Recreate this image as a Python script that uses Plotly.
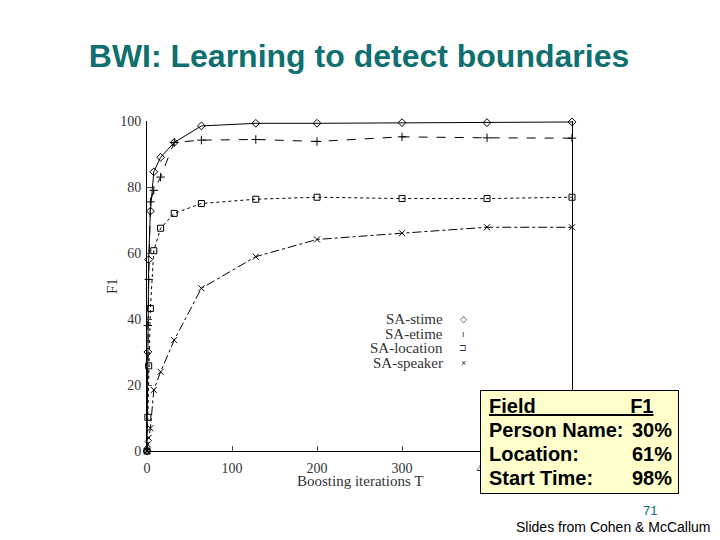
import plotly.graph_objects as go

# ---- data ----
T = [0, 1, 2, 4, 8, 16, 32, 64, 128, 200, 300, 400, 500]
sa_stime = [0, 30, 58, 72.7, 84.6, 89, 93.5, 98.5, 99.3, 99.3, 99.5, 99.5, 99.7]
sa_etime = [0, 38, 52, 75.5, 79, 83, 93.5, 94.2, 94.4, 93.8, 95.2, 94.9, 94.8]
sa_location = [0, 10.2, 25.8, 43.2, 60.7, 67.5, 72, 75, 76.3, 76.9, 76.5, 76.5, 76.9]
sa_speaker = [0, 2, 4, 6.9, 18.5, 24, 33.6, 49.3, 58.9, 64.1, 66, 67.8, 67.8]

series_names = ["SA-stime", "SA-etime", "SA-location", "SA-speaker"]
series_values = [sa_stime, sa_etime, sa_location, sa_speaker]
marker_symbols = ["diamond-open", "cross-thin-open", "square-open", "x-thin-open"]
line_dashes = ["solid", "dash", "dot", "dashdot"]
legend_glyphs = ["\u25C7", "\u0131", "\u2290", "\u00D7"]

x_ticks = [0, 100, 200, 300, 400, 500]
y_ticks = [0, 20, 40, 60, 80, 100]

table_fields = ["Person Name:", "Location:", "Start Time:"]
table_f1 = ["30%", "61%", "98%"]

title_text = "BWI: Learning to detect boundaries"
teal = "#107070"
serif = "Liberation Serif, Times New Roman, serif"
sans = "Liberation Sans, Arial, sans-serif"

# page body adds an 8px offset; plot area target is x 147..572, y 121..451 on screen
OFF = 8

fig = go.Figure()
for name, vals, sym, dash in zip(series_names, series_values, marker_symbols, line_dashes):
    fig.add_trace(go.Scatter(
        x=T, y=vals, name=name, mode="lines+markers",
        line=dict(color="black", width=1, dash=dash),
        marker=dict(symbol=sym, size=6, color="black", line=dict(width=1, color="black")),
        cliponaxis=False, showlegend=False,
    ))

fig.update_layout(
    width=720, height=540, autosize=False,
    margin=dict(l=147 - OFF, r=720 - 425 - (147 - OFF), t=121 - OFF, b=540 - 330 - (121 - OFF)),
    paper_bgcolor="white", plot_bgcolor="white",
    title=dict(text="<b>" + title_text + "</b>", x=(359 - OFF) / 720, xanchor="center",
               y=1 - (56 - OFF) / 540, yanchor="middle",
               font=dict(family=sans, size=32, color=teal)),
    xaxis=dict(range=[0, 500], tickvals=x_ticks, ticks="inside", ticklen=5,
               showline=True, linecolor="black", linewidth=1, mirror=False,
               showgrid=False, zeroline=False, ticklabelstandoff=4,
               tickfont=dict(family=serif, size=14, color="#333")),
    yaxis=dict(range=[0, 100], tickvals=y_ticks, ticks="inside", ticklen=5,
               showline=True, linecolor="black", linewidth=1, mirror=True,
               showgrid=False, zeroline=False, ticklabelstandoff=2,
               tickfont=dict(family=serif, size=14, color="#333")),
)

# axis titles
fig.add_annotation(x=(112 - 147) / 425, y=0.5, xref="paper", yref="paper",
                   xanchor="center", yanchor="middle", text="F1", textangle=-90,
                   showarrow=False, font=dict(family=serif, size=15, color="#333"))
fig.add_annotation(x=0.5, y=(451 - 481) / 330, xref="paper", yref="paper",
                   xanchor="center", yanchor="middle", text="Boosting iterations T",
                   showarrow=False, font=dict(family=serif, size=15, color="#333"))

# legend (text then glyph, as in the reference)
for i, (name, g) in enumerate(zip(series_names, legend_glyphs)):
    y = 0.40 - i * 0.0445
    fig.add_annotation(x=0.701, y=y, xref="paper", yref="paper", xanchor="right",
                       yanchor="middle", text=name, showarrow=False,
                       font=dict(family=serif, size=15, color="#333"))
    fig.add_annotation(x=0.744, y=y, xref="paper", yref="paper", xanchor="center",
                       yanchor="middle", text=g, showarrow=False,
                       font=dict(family=sans, size=9, color="#333"))

# yellow results box
fig.add_annotation(x=(480 - 147) / 425, y=(451 - 390) / 330, xref="paper", yref="paper",
                   xanchor="left", yanchor="top", text=" ", showarrow=False,
                   width=197, height=102, bgcolor="#ffffcc", bordercolor="black",
                   borderwidth=1, borderpad=0)
row_y = [(451 - 406) / 330, (451 - 430) / 330, (451 - 454) / 330, (451 - 478) / 330]
xl = (487 - 147) / 425
xr = (630 - 147) / 425
fig.add_annotation(x=xl, y=row_y[0], xref="paper", yref="paper", xanchor="left",
                   yanchor="middle", showarrow=False,
                   text="<b><u>Field" + "\u00a0" * 17 + "F1</u></b>",
                   font=dict(family=sans, size=20, color="black"))
for i, (f, v) in enumerate(zip(table_fields, table_f1)):
    fig.add_annotation(x=xl, y=row_y[i + 1], xref="paper", yref="paper", xanchor="left",
                       yanchor="middle", showarrow=False, text="<b>" + f + "</b>",
                       font=dict(family=sans, size=20, color="black"))
    fig.add_annotation(x=xr, y=row_y[i + 1], xref="paper", yref="paper", xanchor="left",
                       yanchor="middle", showarrow=False, text="<b>" + v + "</b>",
                       font=dict(family=sans, size=20, color="black"))

# footer
fig.add_annotation(x=(650 - 147) / 425, y=(451 - 510) / 330, xref="paper", yref="paper",
                   xanchor="center", yanchor="middle", showarrow=False, text="71",
                   font=dict(family=sans, size=13, color=teal))
fig.add_annotation(x=(713 - 147) / 425, y=(451 - 527) / 330, xref="paper", yref="paper",
                   xanchor="right", yanchor="middle", showarrow=False,
                   text="Slides from Cohen & McCallum",
                   font=dict(family=sans, size=14, color="black"))

fig.write_html("out.html")
